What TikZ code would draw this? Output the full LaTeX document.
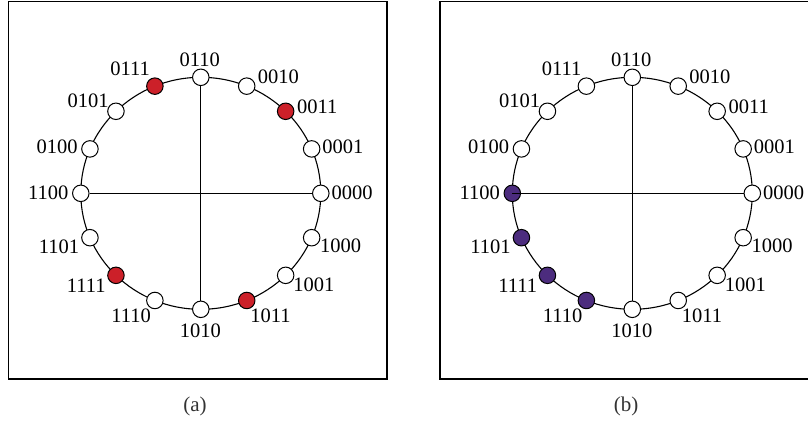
\documentclass[tikz,border=0pt]{standalone}
\usepackage{fontspec}
\setmainfont{Liberation Serif}
\definecolor{dotred}{RGB}{204,32,41}
\definecolor{dotpurple}{RGB}{76,44,126}
\begin{document}
\begin{tikzpicture}[x=1pt,y=-1pt,
  frame/.style={draw, line width=1.4pt},
  ring/.style={draw, line width=1.1pt},
  axis/.style={draw, line width=1.1pt},
  dot/.style={circle, draw, line width=1pt, minimum size=16.5pt, inner sep=0pt, fill=white},
  lbl/.style={font=\fontsize{20.5}{20.5}\selectfont, inner sep=0pt},
  captext/.style={font=\fontsize{21}{21}\selectfont, text=black!80, inner sep=0pt}]
\useasboundingbox (0,0) rectangle (808,421);
% frames
\draw[frame] (8.5,1.5) rectangle (387,379);
\draw[frame] (812,1.5) -- (440,1.5) -- (440,379) -- (812,379);
% rings
\draw[ring] (200.8,193.3) ellipse [x radius=120pt, y radius=116pt];
\draw[ring] (632.3,193.3) ellipse [x radius=120pt, y radius=116pt];
% nodes and labels
\foreach \i/\t/\fa/\fb/\dx/\dy in {
  0/0000/white/white/31.3/-1,
  1/0001/white/white/31.3/-2,
  2/0011/dotred/white/31.7/-4,
  3/0010/white/white/31.6/-9,
  4/0110/white/white/-1/-17.7,
  5/0111/dotred/white/-24.8/-17,
  6/0101/white/white/-27.9/-10.6,
  7/0100/white/white/-32.7/-1.7,
  8/1100/white/dotpurple/-32.5/-1,
  9/1101/white/dotpurple/-31/8.6,
  10/1111/dotred/dotpurple/-29.7/10.7,
  11/1110/white/dotpurple/-23.7/15.7,
  12/1010/white/white/-0.5/21.3,
  13/1011/dotred/white/23.7/15.7,
  14/1001/white/white/28.2/9.4,
  15/1000/white/white/29/8}
{
  \node[dot, fill=\fa] (a\i) at ({200.8+120*cos(\i*22.5)},{193.3-116*sin(\i*22.5)}) {};
  \node[lbl] (la\i) at ({200.8+120*cos(\i*22.5)+\dx},{193.3-116*sin(\i*22.5)+\dy}) {\t};
  \node[dot, fill=\fb] (b\i) at ({632.3+120*cos(\i*22.5)},{193.3-116*sin(\i*22.5)}) {};
  \node[lbl] (lb\i) at ({632.3+120*cos(\i*22.5)+\dx},{193.3-116*sin(\i*22.5)+\dy}) {\t};
}
% axes
\draw[axis] (a8) -- (a0);
\draw[axis] (a4) -- (a12);
\draw[axis] (b8.center) -- (b0);
\draw[axis] (b4) -- (b12);
% captions
\node[captext] (capa) at (195,406.7) {(a)};
\node[captext] (capb) at (626,406.7) {(b)};
\end{tikzpicture}
\end{document}
